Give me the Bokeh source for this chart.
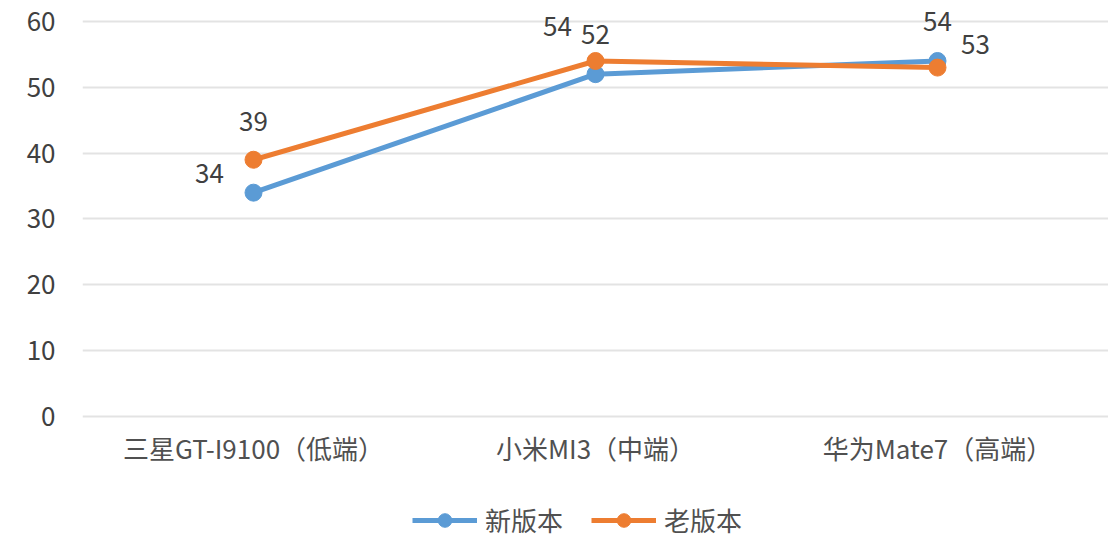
from bokeh.plotting import figure
from bokeh.models import (FactorRange, Range1d, ColumnDataSource, LabelSet,
                          Legend, LegendItem, FixedTicker)
from bokeh.core.properties import value
from bokeh.embed import file_html
from bokeh.resources import INLINE

categories = ["三星GT-I9100（低端）", "小米MI3（中端）", "华为Mate7（高端）"]
series_names = ["新版本", "老版本"]
new_values = [34, 52, 54]
old_values = [39, 54, 53]
y_ticks = [0, 10, 20, 30, 40, 50, 60]

# label offsets (screen px) — style only
new_dx = [-44, 0, 0]
new_dy = [19, 40, 39]
old_dx = [0, -38, 38]
old_dy = [38, 34, 23]

FONT = "Noto Sans CJK SC"
BLUE = "#5B9BD5"
ORANGE = "#ED7D31"

p = figure(width=1108, height=540,
           x_range=FactorRange(factors=categories, range_padding=0),
           y_range=Range1d(-18.84, 63.19),
           output_backend="svg", toolbar_location=None,
           min_border_left=82, min_border_right=0,
           min_border_top=0, min_border_bottom=0)
p.outline_line_color = None
p.background_fill_color = "white"
p.border_fill_color = "white"

p.xgrid.grid_line_color = None
p.ygrid.grid_line_color = "#e3e3e3"
p.ygrid.grid_line_width = 2

p.yaxis.ticker = FixedTicker(ticks=y_ticks)
for ax in (p.xaxis, p.yaxis):
    ax.axis_line_color = None
    ax.major_tick_line_color = None
    ax.minor_tick_line_color = None
    ax.major_label_text_font = FONT
    ax.major_label_text_font_size = "26px"
p.yaxis.major_label_text_color = "#404040"
p.yaxis.major_label_standoff = 21
p.xaxis.fixed_location = 0
p.xaxis.major_label_text_color = "#505050"
p.xaxis.major_label_standoff = 7

src_new = ColumnDataSource(dict(x=categories, y=new_values,
                                text=[str(v) for v in new_values],
                                dx=new_dx, dy=new_dy))
src_old = ColumnDataSource(dict(x=categories, y=old_values,
                                text=[str(v) for v in old_values],
                                dx=old_dx, dy=old_dy))

l1 = p.line("x", "y", source=src_new, line_color=BLUE, line_width=5)
s1 = p.scatter("x", "y", source=src_new, size=17, fill_color=BLUE, line_color=BLUE)
l2 = p.line("x", "y", source=src_old, line_color=ORANGE, line_width=5)
s2 = p.scatter("x", "y", source=src_old, size=17, fill_color=ORANGE, line_color=ORANGE)

for src in (src_new, src_old):
    p.add_layout(LabelSet(x="x", y="y", text="text", x_offset="dx", y_offset="dy",
                          source=src, text_align="center", text_baseline="middle",
                          text_font=value(FONT), text_font_size="26px",
                          text_color="#404040"))

legend = Legend(items=[LegendItem(label=series_names[0], renderers=[l1, s1]),
                       LegendItem(label=series_names[1], renderers=[l2, s2])],
                location=(330, 2), orientation="horizontal",
                glyph_width=65, glyph_height=34, label_standoff=8, spacing=28,
                padding=0, margin=0, border_line_color=None,
                background_fill_alpha=0,
                label_text_font=FONT, label_text_font_size="26px",
                label_text_color="#505050")
p.add_layout(legend)

open("out.html", "w").write(file_html(p, INLINE))
